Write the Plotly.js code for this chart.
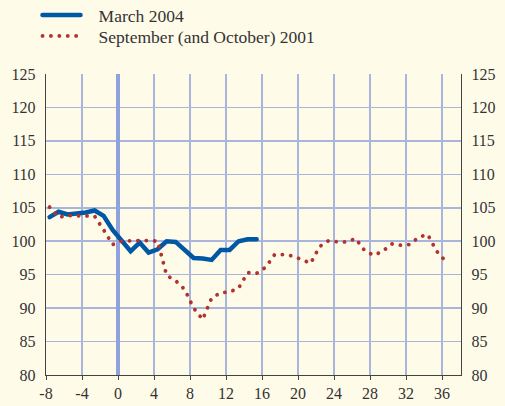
<!DOCTYPE html>
<html>
<head>
<meta charset="utf-8">
<script src="https://cdn.plot.ly/plotly-3.0.1.min.js"></script>
<style>
html,body{margin:0;padding:0;background:#fffbe9;}
#chart{width:505px;height:406px;}
.js-line{stroke-linecap:round !important;}
</style>
</head>
<body>
<div id="chart"></div>
<script>
// Weeks relative to the event
const weeksMarch2004 = [-7.6,-6.6,-5.6,-4.6,-3.6,-2.6,-1.6,-0.6,0.4,1.4,2.4,3.4,4.4,5.4,6.4,7.4,8.4,9.4,10.4,11.4,12.4,13.4,14.4,15.4];
const valuesMarch2004 = [103.6,104.4,104.0,104.1,104.3,104.6,103.8,101.7,100.1,98.5,99.8,98.3,98.8,100.0,99.9,98.7,97.5,97.4,97.2,98.7,98.7,100.0,100.3,100.3];

const weeksSept2001 = [-7.6,-6.6,-5.6,-4.6,-3.6,-2.6,-1.6,-0.6,0.4,1.4,2.4,3.4,4.4,5.4,6.4,7.4,8.4,9.4,10.4,11.4,12.4,13.4,14.4,15.4,16.4,17.4,18.4,19.4,20.4,21.4,22.4,23.4,24.4,25.4,26.4,27.4,28.4,29.4,30.4,31.4,32.4,33.4,34.4,35.4,36.4];
const valuesSept2001 = [105.1,103.6,103.85,103.85,103.85,103.75,101.7,99.5,100.0,100.1,100.1,100.1,100.0,94.9,94.1,92.8,90.0,88.3,91.5,92.3,92.4,93.0,95.3,95.2,96.1,98.0,98.0,97.8,97.2,96.7,99.2,100.1,99.9,99.9,100.4,98.6,97.9,98.5,99.6,99.4,99.5,100.6,101.0,98.5,97.0];

const seriesNames = ["March 2004", "September (and October) 2001"];
const xTickVals = [-8,-4,0,4,8,12,16,20,24,28,32,36];
const yTickVals = [80,85,90,95,100,105,110,115,120,125];

const font = {family: "Liberation Serif, Times New Roman, serif", size: 16, color: "#333333"};
const legendFont = {family: font.family, size: 17.5, color: "#333333"};
const gap = "\u00a0\u00a0\u00a0";

const traces = [
  {x: weeksSept2001, y: valuesSept2001, name: gap + seriesNames[1], type: "scatter", mode: "lines",
   line: {color: "#b0332f", width: 3.8, dash: "0.1px,8.3px"}, hoverinfo: "skip", legend: "legend2", yaxis: "y2"},
  {x: weeksMarch2004, y: valuesMarch2004, name: gap + seriesNames[0], type: "scatter", mode: "lines",
   line: {color: "#0057a3", width: 4.5}, hoverinfo: "skip", legend: "legend"}
];

const legendCommon = {xanchor: "left", yanchor: "middle", bgcolor: "rgba(0,0,0,0)",
                      font: legendFont, itemwidth: 38, borderwidth: 0};

const layout = {
  width: 505, height: 406,
  paper_bgcolor: "#fffbe9", plot_bgcolor: "#fffbe9",
  margin: {l: 46, r: 44, t: 74, b: 31, pad: 0, autoexpand: false},
  font: font,
  showlegend: true,
  legend: Object.assign({x: -0.0205, y: 1.196}, legendCommon),
  legend2: Object.assign({x: -0.0205, y: 1.1262}, legendCommon),
  xaxis: {range: [-8, 38.1], tickvals: xTickVals, ticktext: xTickVals.map(String),
          ticks: "outside", ticklen: 4, tickcolor: "#444", tickwidth: 1,
          showline: true, linecolor: "#444", linewidth: 1.2,
          showgrid: true, gridcolor: "#aab5de", gridwidth: 1.5,
          zeroline: true, zerolinecolor: "#8fa2dc", zerolinewidth: 3.5,
          tickfont: font, tickangle: 0, fixedrange: true},
  yaxis: {range: [80, 125], tickvals: yTickVals, ticktext: yTickVals.map(String),
          ticks: "", showline: true, linecolor: "#444", linewidth: 1.2,
          showgrid: true, gridcolor: "#aab5de", gridwidth: 1.5, zeroline: false,
          tickfont: font, ticklabelstandoff: 6, fixedrange: true},
  yaxis2: {range: [80, 125], tickvals: yTickVals, ticktext: yTickVals.map(String),
           overlaying: "y", side: "right", showgrid: false, zeroline: false,
           ticks: "", showline: true, linecolor: "#444", linewidth: 1.2,
           tickfont: font, ticklabelstandoff: 6, fixedrange: true}
};

Plotly.newPlot("chart", traces, layout, {staticPlot: true, displayModeBar: false});
</script>
</body>
</html>
